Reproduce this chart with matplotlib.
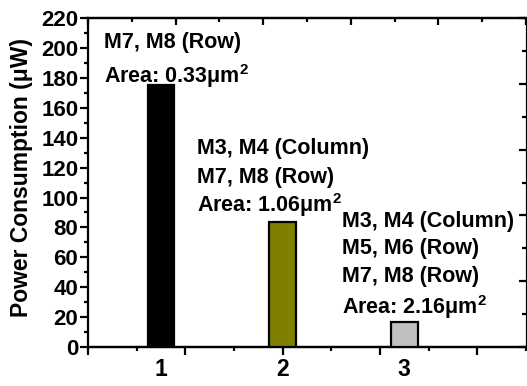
import numpy as np
import matplotlib
matplotlib.use("Agg")
import matplotlib.pyplot as plt

plt.rcParams["font.family"] = ["Liberation Sans", "DejaVu Sans"]
plt.rcParams["font.weight"] = "bold"
plt.rcParams["mathtext.fontset"] = "custom"
plt.rcParams["mathtext.rm"] = "Liberation Sans:bold"
plt.rcParams["mathtext.bf"] = "Liberation Sans:bold"

# data
configs = [1, 2, 3]
power_uw = [175, 83.5, 17]
bar_colors = ["#000000", "#808000", "#c0c0c0"]
notes = [
    ["M7, M8 (Row)", "Area: 0.33μm$^{2}$"],
    ["M3, M4 (Column)", "M7, M8 (Row)", "Area: 1.06μm$^{2}$"],
    ["M3, M4 (Column)", "M5, M6 (Row)", "M7, M8 (Row)", "Area: 2.16μm$^{2}$"],
]
note_x = [0.535, 1.294, 2.486]
note_baselines = [
    [200, 176.5],
    [129, 110, 90.5],
    [80, 62.5, 43.5, 22],
]

fig = plt.figure(figsize=(5.27, 3.86), dpi=100)
ax = fig.add_axes([0.167, 0.101, 0.831, 0.852])

ax.bar(configs, power_uw, width=0.22, color=bar_colors, edgecolor="black", linewidth=1.6, zorder=3)

ax.set_xlim(0.4, 4.0)
ax.set_ylim(0, 220)

for x, lines, ys in zip(note_x, notes, note_baselines):
    for line, y in zip(lines, ys):
        ax.text(x, y, line, fontsize=15.5, fontweight="bold", va="baseline", ha="left")

# category labels, no tick marks under them
ax.set_xticks(configs)
ax.set_xticklabels([str(c) for c in configs], fontsize=16.5, fontweight="bold")
ax.tick_params(axis="x", which="major", length=0, pad=8)

# bottom tick marks on their own grid
bot = ax.secondary_xaxis("bottom")
bot.set_xticks(np.arange(0.4, 4.01, 0.8))
bot.set_xticks(np.arange(0.8, 4.01, 0.8), minor=True)
bot.set_xticklabels([])
bot.tick_params(which="major", direction="out", length=6, width=1.6)
bot.tick_params(which="minor", direction="out", length=3, width=1.6)
bot.spines["bottom"].set_linewidth(1.6)

ax.set_yticks(np.arange(0, 221, 20))
ax.set_yticks(np.arange(10, 220, 20), minor=True)
ax.tick_params(axis="y", which="major", direction="out", length=6, width=1.6, labelsize=16, pad=1)
ax.tick_params(axis="y", which="minor", direction="out", length=3, width=1.6)
for lab in ax.get_yticklabels():
    lab.set_fontweight("bold")

ax.set_ylabel("Power Consumption (μW)", fontsize=16.5, fontweight="bold", labelpad=5)
ax.yaxis.set_label_coords(-0.125, 0.515)

# top and right axes with their own inward ticks
top = ax.secondary_xaxis("top", functions=(lambda x: (x - 0.4) / 0.36, lambda t: t * 0.36 + 0.4))
top.set_xticks(np.arange(0, 11, 2))
top.set_xticks(np.arange(1, 10, 2), minor=True)
top.set_xticklabels([])
top.tick_params(which="major", direction="in", length=5, width=1.6)
top.tick_params(which="minor", direction="in", length=3, width=1.6)
top.spines["top"].set_linewidth(1.6)

right = ax.secondary_yaxis("right", functions=(lambda y: y / 22.0, lambda t: t * 22.0))
right.set_yticks(np.arange(0, 11, 2))
right.set_yticks(np.arange(1, 10, 2), minor=True)
right.set_yticklabels([])
right.tick_params(which="major", direction="in", length=5, width=1.6)
right.tick_params(which="minor", direction="in", length=3, width=1.6)
right.spines["right"].set_linewidth(0.8)

for side in ["left", "bottom", "top"]:
    ax.spines[side].set_linewidth(1.6)
ax.spines["right"].set_linewidth(0.8)

fig.savefig("out.png", dpi=100)
